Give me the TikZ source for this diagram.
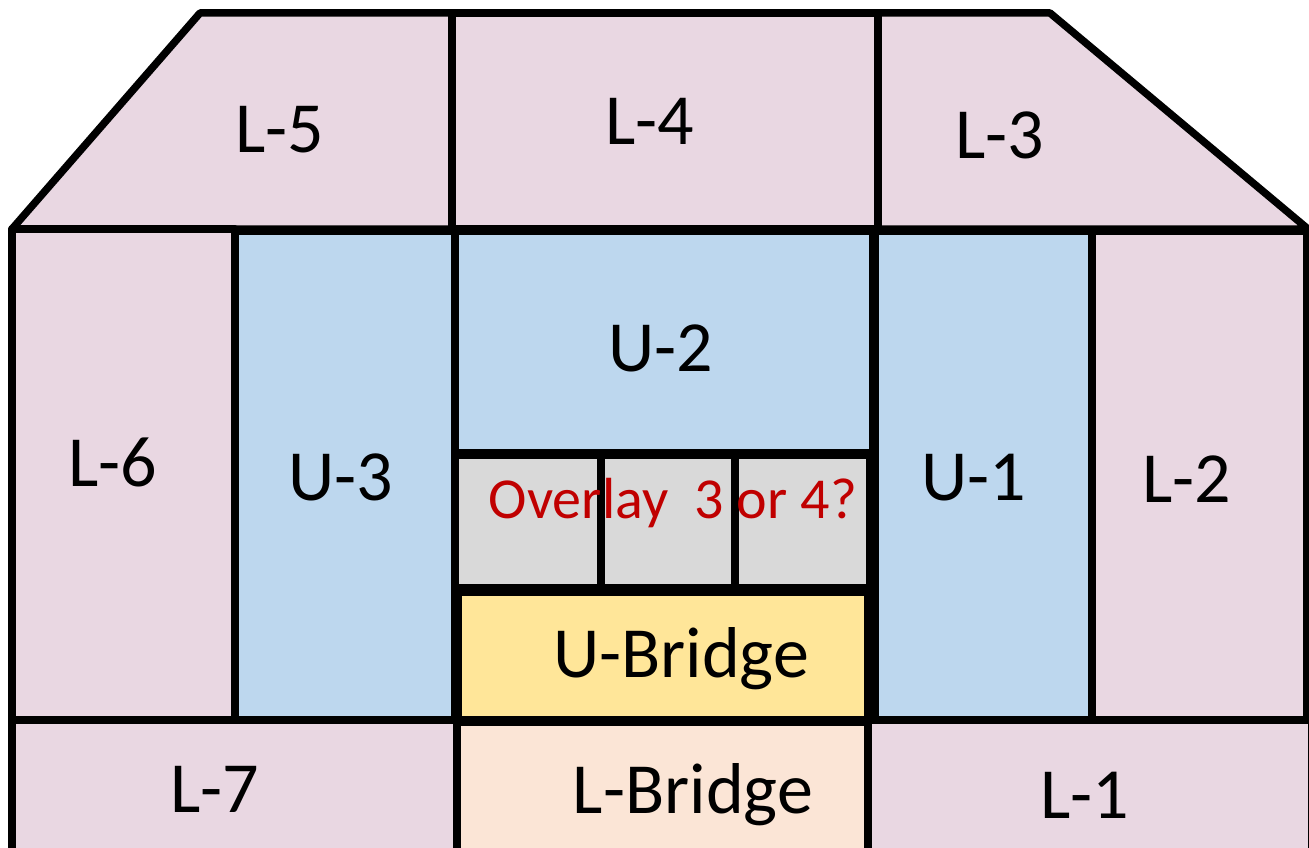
\documentclass[tikz,border=0pt]{standalone}
\usepackage{fontspec}
\setmainfont{Carlito}
\usetikzlibrary{arrows}
\definecolor{lpink}{HTML}{E9D7E2}
\definecolor{lblue}{HTML}{BDD7EE}
\definecolor{lgray}{HTML}{D9D9D9}
\definecolor{lyellow}{HTML}{FFE699}
\definecolor{lpeach}{HTML}{FBE5D6}
\definecolor{dred}{HTML}{C00000}

\begin{document}
\begin{tikzpicture}[line cap=round,line join=round,x=1pt,y=-1pt,
  zone/.style={line width=7.5pt},
  lbl/.style={font=\fontsize{72}{80}\selectfont,anchor=base}]
\clip (0,0) rectangle (1309,848);
% top row
\draw [zone,fill=lpink] (12,229)-- (200,13)-- (452,13)-- (452,229)-- cycle;
\draw [zone,fill=lpink] (452,13) rectangle (878,229);
\draw [zone,fill=lpink] (878,13)-- (1050,13)-- (1308,229)-- (878,229)-- cycle;
% middle row
\draw [zone,fill=lpink] (12,229) rectangle (235,720);
\draw [zone,fill=lblue] (235,231) rectangle (455,720);
\draw [zone,fill=lblue] (455,231) rectangle (873,453);
\draw [zone,fill=lgray] (455,455) rectangle (601,588);
\draw [zone,fill=lgray] (601,455) rectangle (735,588);
\draw [zone,fill=lgray] (735,455) rectangle (870,588);
\draw [zone,fill=lyellow] (458,592) rectangle (868,720);
\draw [zone,fill=lblue] (875,231) rectangle (1092,720);
\draw [zone,fill=lpink] (1092,231) rectangle (1307,720);
% bottom row
\draw [zone,fill=lpink] (12,720) rectangle (457,870);
\draw [zone,fill=lpeach] (457,722) rectangle (868,870);
\draw [zone,fill=lpink] (868,720) rectangle (1312,870);
% labels
\draw[color=black] (280,153) node (l5) [lbl] {L-5};
\draw[color=black] (650,145) node (l4) [lbl] {L-4};
\draw[color=black] (1000,158) node (l3) [lbl] {L-3};
\draw[color=black] (661,371) node (u2) [lbl] {U-2};
\draw[color=black] (113,486) node (l6) [lbl] {L-6};
\draw[color=black] (341,500) node (u3) [lbl] {U-3};
\draw[color=black] (974,500) node (u1) [lbl] {U-1};
\draw[color=black] (1187,502) node (l2) [lbl] {L-2};
\draw[color=dred] (673,518) node (ovl) [lbl,font=\fontsize{58}{64}\selectfont] {Overlay~~3 or 4?};
\draw[color=black] (681,677) node (ubr) [lbl] {U-Bridge};
\draw[color=black] (693,813) node (lbr) [lbl] {L-Bridge};
\draw[color=black] (215,812) node (l7) [lbl] {L-7};
\draw[color=black] (1085,818) node (l1) [lbl] {L-1};
\end{tikzpicture}
\end{document}
